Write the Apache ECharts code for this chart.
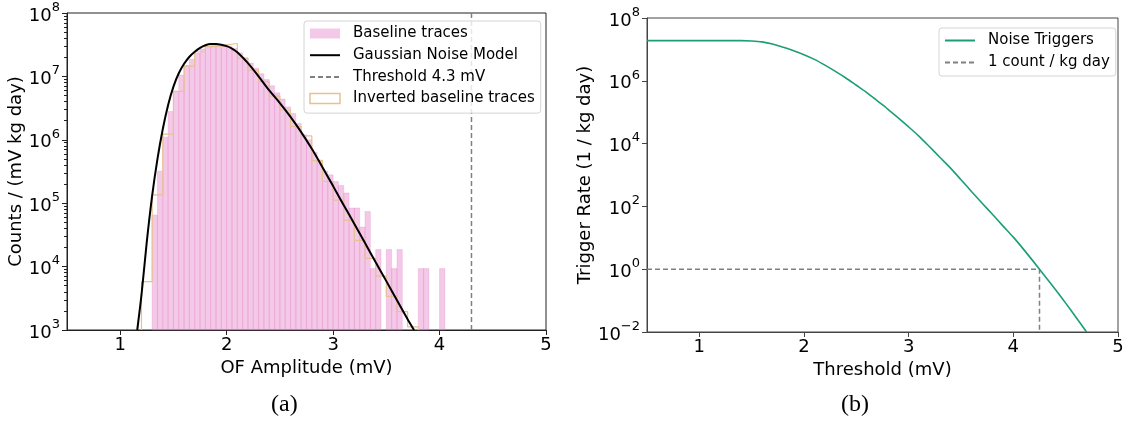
<!DOCTYPE html>
<html>
<head>
<meta charset="utf-8">
<script src="https://cdn.jsdelivr.net/npm/echarts@6/dist/echarts.min.js"></script>
<style>
  html, body { margin: 0; padding: 0; background: #fff; }
  #chart { width: 1127px; height: 421px; }
</style>
</head>
<body>
<div id="chart"></div>
<script>
// ---- (a) OF amplitude histogram ----
// baseline traces, bins of 0.05 mV starting at 1.30 mV (null = empty bin)
const baseStart = 1.30;
const baseWidth = 0.05;
const baselineCounts = [
  6.5e4, 3.2e5, 1.1e6, 2.8e6, 5.8e6, 1.05e7, 1.48e7, 1.86e7, 2.34e7, 2.7e7,
  3.0e7, 3.15e7, 3.15e7, 3.15e7, 3.0e7, 2.75e7, 2.35e7, 1.95e7, 1.62e7, 1.35e7,
  1.1e7, 8.9e6, 7.1e6, 5.5e6, 4.4e6, 3.3e6, 2.6e6, 1.8e6, 1.2e6, 1.0e6,
  6.3e5, 4.8e5, 3.2e5, 2.8e5, 2.2e5, 1.9e5, 1.45e5, 8.4e4, 8.4e4, 4.2e4,
  7.4e4, 9.3e3, 1.86e4, null, 1.86e4, 9.3e3, 1.86e4, null, null, null,
  9.3e3, 9.3e3, null, null, 9.3e3
];
// inverted baseline traces, bins of 0.1 mV starting at 1.2 mV
const invStart = 1.2;
const invWidth = 0.1;
const invertedCounts = [
  5.8e3, 1.35e5, 1.23e6, 5.8e6, 1.45e7, 2.45e7, 2.95e7, 3.15e7, 3.3e7, 1.95e7,
  1.26e7, 8.3e6, 4.9e6, 2.95e6, 1.62e6, 1.15e6, 4.7e5, 2.2e5, 1.12e5, 5.4e4,
  2.6e4, 1.35e4, 7.1e3, 3.4e3, 1.95e3, 1.12e3
];
// gaussian noise model
const modelAmp = [1.16, 1.20, 1.25, 1.30, 1.35, 1.40, 1.45, 1.50, 1.55, 1.60, 1.65, 1.70, 1.75, 1.80,
  1.85, 1.90, 1.95, 2.00, 2.05, 2.10, 2.20, 2.30, 2.40, 2.50, 2.60, 2.70, 2.80, 2.90, 3.00,
  3.10, 3.20, 3.30, 3.40, 3.50, 3.60, 3.70, 3.76];
const modelCounts = [1.0e3, 3.6e3, 2.5e4, 1.32e5, 5.0e5, 1.48e6, 3.55e6, 6.9e6, 1.12e7, 1.58e7, 2.04e7,
  2.45e7, 2.82e7, 3.1e7, 3.24e7, 3.24e7, 3.16e7, 3.0e7, 2.75e7, 2.4e7, 1.62e7, 1.0e7, 6.0e6,
  3.8e6, 2.3e6, 1.32e6, 7.2e5, 3.7e5, 1.86e5, 9.3e4, 4.7e4, 2.35e4, 1.17e4, 5.9e3, 2.95e3,
  1.48e3, 1.0e3];
const thresholdMV = 4.3;

// ---- (b) trigger rate vs threshold ----
const rateThreshold = [0.5, 1.0, 1.4, 1.5, 1.6, 1.7, 1.8, 1.9, 2.0, 2.1, 2.2, 2.3, 2.4, 2.5, 2.6,
  2.7, 2.8, 2.9, 3.0, 3.1, 3.2, 3.3, 3.4, 3.5, 3.6, 3.7, 3.8, 3.9, 4.0, 4.1, 4.25, 4.4, 4.5,
  4.6, 4.7];
const rateValues = [1.9e7, 1.9e7, 1.9e7, 1.86e7, 1.74e7, 1.48e7, 1.17e7, 9.1e6, 6.8e6, 4.8e6,
  3.16e6, 2.0e6, 1.23e6, 7.2e5, 4.2e5, 2.3e5, 1.26e5, 6.6e4, 3.4e4, 1.7e4, 7.9e3, 3.6e3,
  1.66e3, 7.1e2, 3.0e2, 1.29e2, 56, 24, 10.5, 4.2, 1.0, 0.23, 0.083, 0.029, 0.01];
const oneCountThreshold = 4.25;

const xTicks = [1, 2, 3, 4, 5];
const yTicksA = [1e3, 1e4, 1e5, 1e6, 1e7, 1e8];
const yTicksB = [1e-2, 1, 1e2, 1e4, 1e6, 1e8];

const minorA = [];
for (let e = 3; e < 8; e++) for (let m = 2; m < 10; m++) minorA.push(m * Math.pow(10, e));

const FONT = 'DejaVu Sans';
const PINK = 'rgba(227,119,194,0.4)';
const TAN = '#e8c193';

function powLabel(v) {
  const e = Math.round(Math.log10(v));
  return '{b|10}{s|' + (e < 0 ? '\u2212' + (-e) : e) + '}';
}
const powRich = {
  b: { fontSize: 18, fontFamily: FONT, color: '#000', lineHeight: 24, verticalAlign: 'bottom' },
  s: { fontSize: 13, fontFamily: FONT, color: '#000', lineHeight: 13, verticalAlign: 'top' }
};

const baseBars = [];
baselineCounts.forEach((c, i) => {
  if (c != null) baseBars.push([baseStart + i * baseWidth, baseStart + (i + 1) * baseWidth, c]);
});

const invSteps = [[invStart, 1e3]];
invertedCounts.forEach((c, i) => {
  invSteps.push([invStart + i * invWidth, c]);
  invSteps.push([invStart + (i + 1) * invWidth, c]);
});
invSteps.push([invStart + invertedCounts.length * invWidth, 1e3]);

function xAxisCfg(idx, name, color) {
  return {
    type: 'value', gridIndex: idx, min: 0.5, max: 5,
    name: name, nameLocation: 'middle', nameGap: 24,
    nameTextStyle: { fontSize: 18, fontFamily: FONT, color: '#000' },
    axisLine: { show: true, lineStyle: { color: color, width: 1 } },
    axisTick: { show: true, length: 5, customValues: xTicks, lineStyle: { color: color } },
    axisLabel: { customValues: xTicks, fontSize: 18, fontFamily: FONT, color: '#000', margin: 6 },
    splitLine: { show: false }
  };
}

// legend entries for lines: hide the marker that echarts adds to line icons
const noMarker = { opacity: 0 };

const chart = echarts.init(document.getElementById('chart'));
chart.setOption({
  animation: false,
  textStyle: { fontFamily: FONT },
  grid: [
    { left: 67, top: 13, width: 479, height: 317, show: true, borderColor: '#222', borderWidth: 1 },
    { left: 647, top: 18, width: 471, height: 314, show: true, borderColor: '#444', borderWidth: 1 }
  ],
  xAxis: [xAxisCfg(0, 'OF Amplitude (mV)', '#222'), xAxisCfg(1, 'Threshold (mV)', '#444')],
  yAxis: [
    {
      type: 'log', logBase: 10, gridIndex: 0, min: 1e3, max: 1e8,
      name: 'Counts / (mV kg day)', nameLocation: 'middle', nameGap: 38,
      nameTextStyle: { fontSize: 18, fontFamily: FONT, color: '#000' },
      axisLine: { show: true, lineStyle: { color: '#222' } },
      axisTick: { show: true, length: 5, customValues: yTicksA, lineStyle: { color: '#222' } },
      axisLabel: { customValues: yTicksA, formatter: powLabel, rich: powRich, margin: 7 },
      splitLine: { show: false }
    },
    {
      type: 'log', logBase: 10, gridIndex: 0, min: 1e3, max: 1e8, position: 'left',
      axisLine: { show: false },
      axisTick: { show: true, length: 3, customValues: minorA, lineStyle: { color: '#222' } },
      axisLabel: { show: false },
      splitLine: { show: false }
    },
    {
      type: 'log', logBase: 10, gridIndex: 1, min: 1e-2, max: 1e8,
      name: 'Trigger Rate (1 / kg day)', nameLocation: 'middle', nameGap: 48,
      nameTextStyle: { fontSize: 18, fontFamily: FONT, color: '#000' },
      axisLine: { show: true, lineStyle: { color: '#444' } },
      axisTick: { show: true, length: 5, customValues: yTicksB, lineStyle: { color: '#444' } },
      axisLabel: { customValues: yTicksB, formatter: powLabel, rich: powRich, margin: 7 },
      splitLine: { show: false }
    }
  ],
  legend: [
    {
      left: 304, top: 21, orient: 'vertical',
      itemWidth: 30, itemHeight: 10, itemGap: 4.7,
      padding: [4, 6, 6, 5],
      backgroundColor: 'rgba(255,255,255,0.8)', borderColor: '#d4d4d4', borderWidth: 1, borderRadius: 3,
      textStyle: { fontSize: 15, fontFamily: FONT, color: '#000', lineHeight: 17, padding: [0, 0, 0, 8] },
      data: [
        { name: 'Baseline traces', icon: 'rect', itemStyle: { color: PINK, borderWidth: 0 } },
        { name: 'Gaussian Noise Model', itemStyle: noMarker },
        { name: 'Threshold 4.3 mV', itemStyle: noMarker },
        { name: 'Inverted baseline traces', icon: 'rect',
          itemStyle: { color: '#fff', borderColor: TAN, borderWidth: 1.5 } }
      ]
    },
    {
      left: 939, top: 28, orient: 'vertical',
      itemWidth: 30, itemHeight: 10, itemGap: 5,
      padding: [4, 6, 5, 5],
      backgroundColor: 'rgba(255,255,255,0.8)', borderColor: '#d4d4d4', borderWidth: 1, borderRadius: 3,
      textStyle: { fontSize: 15, fontFamily: FONT, color: '#000', lineHeight: 17, padding: [0, 0, 0, 8] },
      data: [
        { name: 'Noise Triggers', itemStyle: noMarker },
        { name: '1 count / kg day', itemStyle: noMarker }
      ]
    }
  ],
  graphic: [
    { type: 'text', left: 271, top: 393, style: { text: '(a)', fontSize: 24, fontFamily: 'Liberation Serif', fill: '#000' } },
    { type: 'text', left: 841, top: 393, style: { text: '(b)', fontSize: 24, fontFamily: 'Liberation Serif', fill: '#000' } }
  ],
  series: [
    {
      name: 'Baseline traces', type: 'custom', xAxisIndex: 0, yAxisIndex: 0, z: 1,
      itemStyle: { color: PINK },
      encode: { x: [0, 1], y: 2 },
      data: baseBars,
      renderItem: function (params, api) {
        const p0 = api.coord([api.value(0), api.value(2)]);
        const p1 = api.coord([api.value(1), 1e3]);
        return {
          type: 'rect',
          shape: { x: p0[0], y: p0[1], width: p1[0] - p0[0], height: p1[1] - p0[1] },
          style: { fill: PINK, stroke: 'rgba(227,119,194,0.25)', lineWidth: 1 }
        };
      }
    },
    {
      name: 'Inverted baseline traces', type: 'line', xAxisIndex: 0, yAxisIndex: 0, z: 2,
      symbol: 'none', data: invSteps,
      lineStyle: { color: TAN, width: 1.2 }, itemStyle: { color: TAN }
    },
    {
      name: 'Gaussian Noise Model', type: 'line', xAxisIndex: 0, yAxisIndex: 0, z: 3,
      symbol: 'none', smooth: 0.3,
      data: modelAmp.map((a, i) => [a, modelCounts[i]]),
      lineStyle: { color: '#000', width: 2 }, itemStyle: { color: '#000' }
    },
    {
      name: 'Threshold 4.3 mV', type: 'line', xAxisIndex: 0, yAxisIndex: 0, z: 3,
      symbol: 'none',
      data: [[thresholdMV, 1e3], [thresholdMV, 1e8]],
      lineStyle: { color: '#808080', width: 1.5, type: [5, 3] }, itemStyle: { color: '#808080' }
    },
    {
      name: 'Noise Triggers', type: 'line', xAxisIndex: 1, yAxisIndex: 2, z: 3,
      symbol: 'none', smooth: 0.3,
      data: rateThreshold.map((t, i) => [t, rateValues[i]]),
      lineStyle: { color: '#1b9e77', width: 1.6 }, itemStyle: { color: '#1b9e77' }
    },
    {
      name: '1 count / kg day', type: 'line', xAxisIndex: 1, yAxisIndex: 2, z: 2,
      symbol: 'none',
      data: [[0.5, 1], [oneCountThreshold, 1], [oneCountThreshold, 1e-2]],
      lineStyle: { color: '#808080', width: 1.5, type: [5, 3] }, itemStyle: { color: '#808080' }
    }
  ]
});
</script>
</body>
</html>
